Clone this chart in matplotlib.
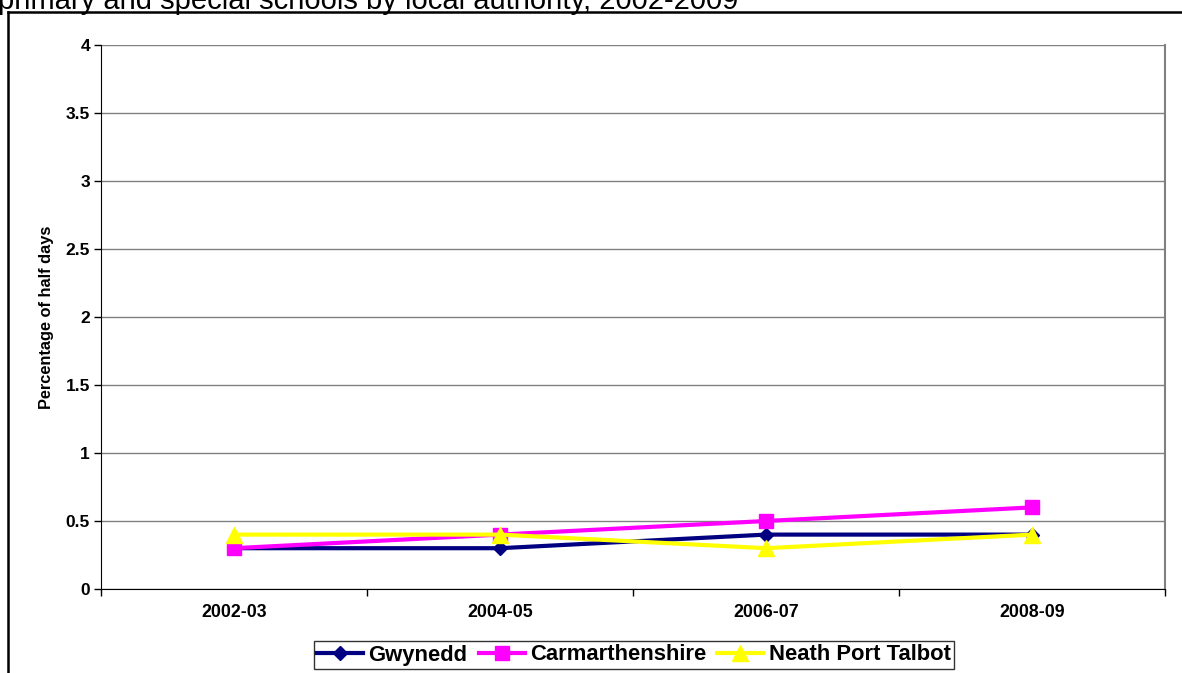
import matplotlib
matplotlib.use("Agg")
import matplotlib.pyplot as plt
from matplotlib.lines import Line2D

plt.rcParams['font.family'] = ['Liberation Sans', 'DejaVu Sans']

years = ["2002-03", "2004-05", "2006-07", "2008-09"]
gwynedd = [0.3, 0.3, 0.4, 0.4]
carmarthenshire = [0.3, 0.4, 0.5, 0.6]
neath_port_talbot = [0.4, 0.4, 0.3, 0.4]
y_ticks = [0, 0.5, 1, 1.5, 2, 2.5, 3, 3.5, 4]
y_tick_labels = ["0", "0.5", "1", "1.5", "2", "2.5", "3", "3.5", "4"]

W, H = 1182, 673
fig = plt.figure(figsize=(W / 100, H / 100), dpi=100)

# plot area in pixel coordinates
left, right, top, bottom = 101, 1165, 45, 589
ax = fig.add_axes([left / W, 1 - bottom / H, (right - left) / W, (bottom - top) / H])

x = list(range(len(years)))
ax.plot(x, gwynedd, color="#000080", lw=3, marker="D", ms=7.5, label="Gwynedd", zorder=3)
ax.plot(x, carmarthenshire, color="#FF00FF", lw=3, marker="s", ms=10.5, label="Carmarthenshire", zorder=3)
ax.plot(x, neath_port_talbot, color="#FFFF00", lw=3, marker="^", ms=11, label="Neath Port Talbot", zorder=4)

ax.set_xlim(-0.5, len(years) - 0.5)
ax.set_ylim(0, 4)
ax.set_yticks(y_ticks)
ax.set_yticklabels(y_tick_labels, fontsize=12.5, fontweight="bold")
ax.yaxis.grid(True, color="#808080", lw=1)
ax.set_axisbelow(True)

# category labels centred, tick marks on category boundaries
ax.set_xticks([i - 0.5 for i in range(len(years) + 1)])
ax.set_xticklabels([])
ax.set_xticks(x, minor=True)
ax.set_xticklabels(years, minor=True, fontsize=12.8, fontweight="bold")
ax.tick_params(axis="x", which="minor", length=0, pad=11)
ax.tick_params(axis="x", which="major", direction="out", length=5, width=1, color="black")
ax.tick_params(axis="y", direction="out", length=5, width=1, color="black", pad=3)

ax.spines["top"].set_visible(False)
ax.spines["right"].set_color("#808080")
ax.spines["right"].set_linewidth(1.5)
ax.spines["left"].set_color("black")
ax.spines["bottom"].set_color("black")

ax.set_ylabel("Percentage of half days", fontsize=11.8, fontweight="bold", labelpad=8)

leg = fig.legend(loc="center", bbox_to_anchor=((313 + 955) / 2 / W, 1 - 655 / H),
                 ncol=3, prop={"weight": "bold", "size": 15.8},
                 frameon=True, fancybox=False, edgecolor="black",
                 handlelength=2.1, handletextpad=0.25, columnspacing=0.5,
                 borderpad=0.15, borderaxespad=0)
leg.get_frame().set_linewidth(1)

# outer chart frame
fig.add_artist(Line2D([8 / W, 1.0], [1 - 12 / H, 1 - 12 / H], color="black", lw=1.8))
fig.add_artist(Line2D([8 / W, 8 / W], [0, 1 - 12 / H], color="black", lw=1.8))

# document heading above the chart
fig.text(-2 / W, 1 - 9 / H, "primary and special schools by local authority, 2002-2009",
         fontsize=21, ha="left", va="baseline")

fig.savefig("out.png", dpi=100)
